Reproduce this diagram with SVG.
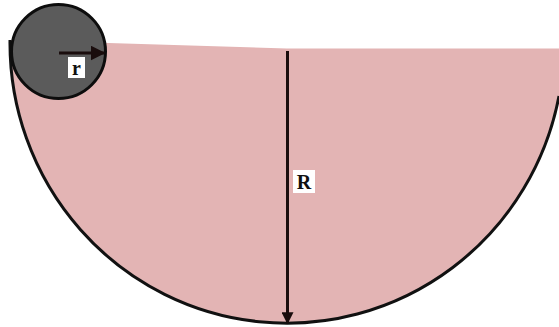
<svg xmlns="http://www.w3.org/2000/svg" width="559" height="327" viewBox="0 0 559 327">
<style>
.bowl{fill:#e3b4b4;stroke:none}
.rim{fill:none;stroke:#111;stroke-width:3}
.ball{fill:#5b5b5b;stroke:#0d0d0d;stroke-width:3}
.arrow{stroke:#1a0d0d;stroke-width:3;fill:none}
.lblbox{fill:#ffffff}
.lbl{font-family:"Liberation Serif",serif;font-weight:bold;font-size:20px;fill:#111;text-anchor:middle}
</style>
<defs>
<marker id="ah" viewBox="0 0 10 10" refX="9" refY="5" markerWidth="4" markerHeight="4" orient="auto" markerUnits="strokeWidth">
<path d="M0,0 L10,5 L0,10 Z" fill="#1a0d0d"/>
</marker>
<marker id="ah2" viewBox="0 0 10 10" refX="9" refY="5" markerWidth="5" markerHeight="5" orient="auto" markerUnits="strokeWidth">
<path d="M0,0 L10,5 L0,10 Z" fill="#1a0d0d"/>
</marker>
</defs>
<g id="bowl">
<path class="bowl" d="M 10 40 L 287 48.5 L 559 48.5 L 559 96 A 277 280 0 0 1 10 40 Z"/>
<path class="rim" d="M 559 96 A 277 280 0 0 1 10 40"/>
</g>
<g id="ball">
<circle class="ball" cx="58.5" cy="51.5" r="47"/>
</g>
<g id="connectors">
<line class="arrow" x1="59" y1="53" x2="104" y2="53" stroke-width="2" marker-end="url(#ah2)"/>
<line class="arrow" x1="287.5" y1="51" x2="287.5" y2="323" marker-end="url(#ah)"/>
</g>
<g id="label-r">
<rect class="lblbox" x="68" y="57" width="17" height="21"/>
<text class="lbl" x="76.5" y="75">r</text>
</g>
<g id="label-R">
<rect class="lblbox" x="293" y="170" width="22" height="23"/>
<text class="lbl" x="304" y="189">R</text>
</g>
</svg>
